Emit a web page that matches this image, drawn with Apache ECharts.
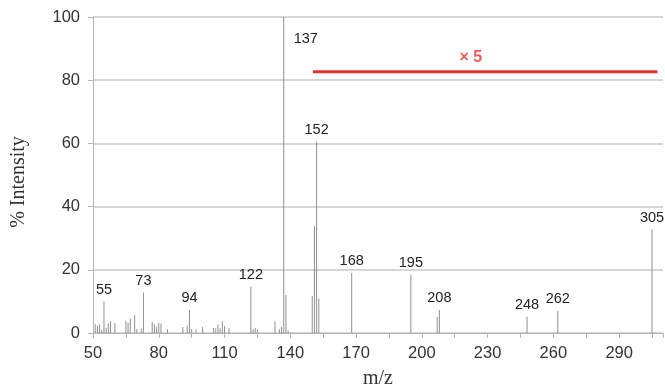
<!DOCTYPE html>
<html>
<head>
<meta charset="utf-8">
<script src="https://cdn.jsdelivr.net/npm/echarts@6/dist/echarts.min.js"></script>
<style>
  html, body { margin: 0; padding: 0; background: #fff; }
  #main { width: 665px; height: 389px; }
</style>
</head>
<body>
<div id="main"></div>
<script>
// m/z values and their relative intensities (%)
var mz = [51, 52, 53, 54, 55, 56, 57, 58, 60, 65, 66, 67, 69, 70, 72, 73, 77, 78, 79, 80, 81, 84,
          91, 93, 94, 95, 97, 100, 105, 106, 107, 108, 109, 110, 112, 122, 123, 124, 125,
          133, 135, 136, 137, 138, 139, 150, 151, 152, 153, 168, 195, 207, 208, 248, 262, 305];
var intensity = [2.8, 2.3, 2.8, 1.0, 10.0, 1.7, 3.0, 3.8, 3.2, 3.9, 3.2, 4.6, 5.6, 1.3, 1.4, 12.8, 3.5, 2.7, 1.9, 3.2, 3.0, 1.2,
                 1.9, 2.4, 7.3, 1.3, 1.2, 1.9, 1.6, 1.4, 2.7, 1.5, 3.7, 2.1, 1.5, 14.7, 1.3, 1.6, 1.2,
                 3.7, 1.2, 1.9, 100, 12.0, 0.9, 11.7, 33.8, 60.6, 10.9, 19.0, 18.4, 5.1, 7.3, 5.2, 7.0, 32.8];
// peaks that carry a label
var labelled = [55, 73, 94, 122, 137, 152, 168, 195, 208, 248, 262, 305];
// the x5 magnification bar
var magLine = [[150.3, 82.7], [307.5, 82.7]];
var magText = [[222.3, 87.1]];

var chart = echarts.init(document.getElementById('main'));

var barData = mz.map(function (m, i) {
    var item = { value: [m, intensity[i]] };
    if (labelled.indexOf(m) >= 0) {
        item.label = { show: true, formatter: String(m) };
        if (m === 137) {
            item.label.offset = [22, 33]; // label sits beside the base peak
        }
    }
    return item;
});

chart.setOption({
    animation: false,
    grid: { left: 93, right: 2, top: 17, bottom: 56, outerBoundsMode: 'none' },
    xAxis: {
        type: 'value',
        min: 50,
        max: 310,
        interval: 15,
        name: 'm/z',
        nameLocation: 'middle',
        nameGap: 36,
        nameTextStyle: { fontFamily: 'Liberation Serif', fontSize: 20, color: '#333' },
        axisLine: { show: true, lineStyle: { color: '#b5b5b5' } },
        axisTick: { show: true, length: 5, lineStyle: { color: '#b5b5b5' } },
        splitLine: { show: false },
        axisLabel: {
            margin: 12,
            fontFamily: 'Liberation Sans',
            fontSize: 16.5,
            color: '#333',
            formatter: function (v) { return (v - 50) % 30 === 0 && v <= 290 ? String(v) : ''; }
        }
    },
    yAxis: {
        type: 'value',
        min: 0,
        max: 100,
        interval: 20,
        name: '% Intensity',
        nameLocation: 'middle',
        nameGap: 64,
        nameTextStyle: { fontFamily: 'Liberation Serif', fontSize: 20, color: '#333', padding: [0, 0, 0, -14] },
        axisLine: { show: true, lineStyle: { color: '#b5b5b5' } },
        axisTick: { show: true, length: 5, lineStyle: { color: '#b5b5b5' } },
        splitLine: { show: true, lineStyle: { color: '#c8c8c8', width: 1.5 } },
        axisLabel: { margin: 13, fontFamily: 'Liberation Sans', fontSize: 16.5, color: '#333' }
    },
    series: [
        {
            type: 'bar',
            data: barData,
            barWidth: 1,
            itemStyle: { color: '#8f8f8f' },
            label: {
                position: 'top',
                distance: 4,
                fontFamily: 'Liberation Sans',
                fontSize: 14.5,
                color: '#222'
            }
        },
        {
            type: 'line',
            data: magLine,
            symbol: 'none',
            lineStyle: { color: '#e8322d', width: 3 }
        },
        {
            type: 'scatter',
            data: magText,
            symbolSize: 0,
            label: {
                show: true,
                position: 'inside',
                formatter: '× 5',
                fontFamily: 'Liberation Sans',
                fontWeight: 'bold',
                fontSize: 16,
                color: '#e8322d'
            }
        }
    ]
});
</script>
</body>
</html>
